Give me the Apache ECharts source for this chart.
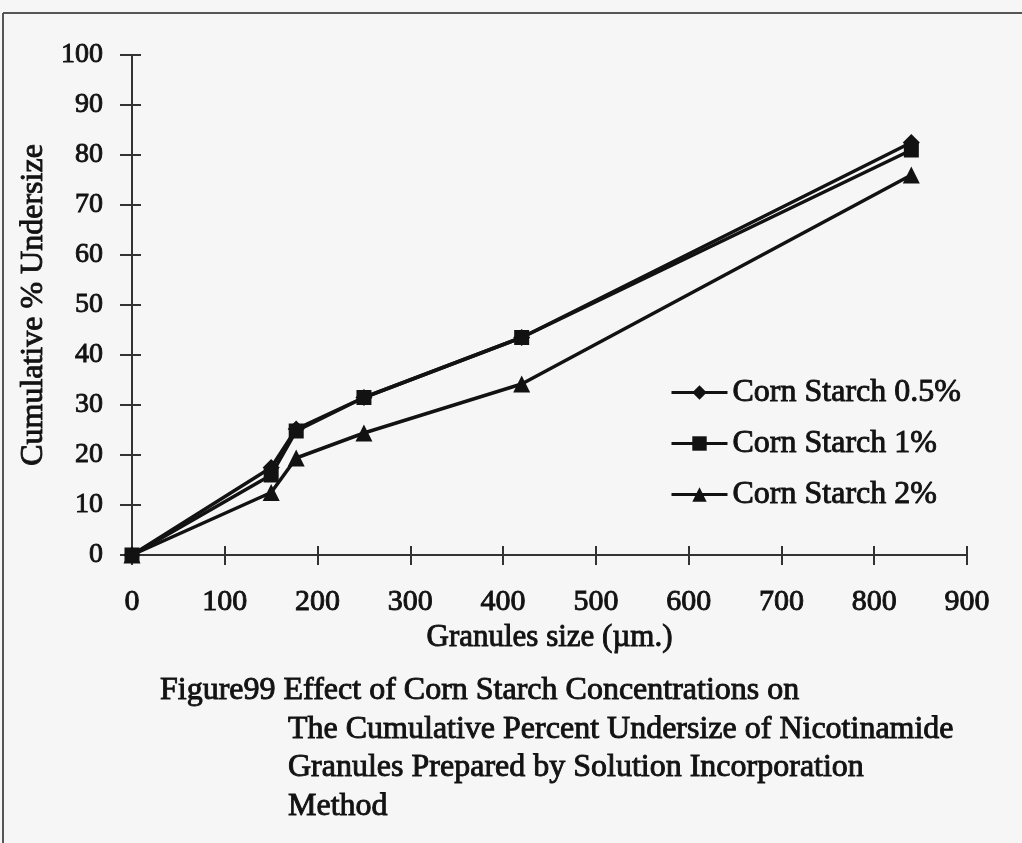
<!DOCTYPE html>
<html>
<head>
<meta charset="utf-8">
<script src="https://cdn.jsdelivr.net/npm/echarts@6/dist/echarts.min.js"></script>
<style>
  html, body { margin: 0; padding: 0; background: #f6f6f6; }
  #chart { width: 1022px; height: 843px; }
</style>
</head>
<body>
<div id="chart"></div>
<script>
// sieve sizes (um) and cumulative % undersize
const sizes = [0, 150, 177, 250, 420, 840]
const starch05 = [0, 17.5, 25.2, 31.5, 43.5, 82.5]
const starch1 = [0, 16, 24.8, 31.5, 43.5, 81]
const starch2 = [0, 12.5, 19.4, 24.4, 34.2, 76]

const seriesNames = ['Corn Starch 0.5%', 'Corn Starch 1%', 'Corn Starch 2%']
const captionLines = [
  'Figure99 Effect of Corn Starch Concentrations on',
  'The Cumulative Percent Undersize of Nicotinamide',
  'Granules Prepared by Solution Incorporation',
  'Method'
]

const font = '"Liberation Serif", "Times New Roman", serif'
const ink = '#121212'
// scanned print looks heavy, thicken glyphs a little
const heavy = { textBorderColor: ink, textBorderWidth: 0.9 }

const pairs = (ys) => sizes.map((x, i) => [x, ys[i]])

const chart = echarts.init(document.getElementById('chart'))

const axisLine = { show: true, lineStyle: { color: '#333', width: 2 } }

const lineSeries = (name, ys, symbol, size) => ({
  name,
  type: 'line',
  data: pairs(ys),
  symbol,
  symbolSize: size,
  lineStyle: { color: ink, width: 3.5 },
  itemStyle: { color: ink },
  emphasis: { disabled: true },
  animation: false,
})

const option = {
  backgroundColor: '#f6f6f6',
  animation: false,
  grid: { left: 132, right: 55, top: 55, bottom: 288, containLabel: false },
  xAxis: [
    {
      type: 'value', min: 0, max: 900, interval: 100,
      name: 'Granules size (\u00b5m.)',
      nameLocation: 'middle', nameGap: 59,
      nameTextStyle: { fontFamily: font, fontSize: 31, color: ink, ...heavy },
      axisLine,
      axisTick: { show: true, length: 10, lineStyle: { color: '#333', width: 2 } },
      axisLabel: { fontFamily: font, fontSize: 30, color: ink, margin: 32, ...heavy },
      splitLine: { show: false },
    },
    {
      type: 'value', min: 0, max: 900, interval: 100, position: 'bottom',
      axisLine: { show: false },
      axisTick: { show: true, inside: true, length: 9, lineStyle: { color: '#333', width: 2 } },
      axisLabel: { show: false },
      splitLine: { show: false },
    },
  ],
  yAxis: [
    {
      type: 'value', min: 0, max: 100, interval: 10,
      name: 'Cumulative % Undersize',
      nameLocation: 'middle', nameGap: 62,
      nameTextStyle: { fontFamily: font, fontSize: 32, color: ink, ...heavy },
      axisLine,
      axisTick: { show: true, length: 12, lineStyle: { color: '#333', width: 2 } },
      axisLabel: { fontFamily: font, fontSize: 28, color: ink, margin: 29, ...heavy },
      splitLine: { show: false },
    },
    {
      type: 'value', min: 0, max: 100, interval: 10, position: 'left',
      axisLine: { show: false },
      axisTick: { show: true, inside: true, length: 9, lineStyle: { color: '#333', width: 2 } },
      axisLabel: { show: false },
      splitLine: { show: false },
    },
  ],
  legend: {
    orient: 'vertical',
    left: 665,
    top: 371,
    itemWidth: 56,
    itemHeight: 18,
    itemGap: 18,
    selectedMode: false,
    data: seriesNames,
    lineStyle: { width: 3 },
    textStyle: { fontFamily: font, fontSize: 32, lineHeight: 33, color: ink, ...heavy },
  },
  series: [
    lineSeries(seriesNames[0], starch05, 'diamond', 17),
    lineSeries(seriesNames[1], starch1, 'rect', 15),
    lineSeries(seriesNames[2], starch2, 'triangle', 17),
  ],
  graphic: [
    // scanned page frame
    { type: 'line', shape: { x1: 3, y1: 13, x2: 1022, y2: 13 }, style: { stroke: '#555', lineWidth: 2 } },
    { type: 'line', shape: { x1: 3, y1: 13, x2: 3, y2: 843 }, style: { stroke: '#555', lineWidth: 2 } },
    ...captionLines.map((t, i) => ({
      type: 'text',
      x: i === 0 ? 160 : 288,
      y: 691 + i * 38.5,
      style: {
        text: t, fontFamily: font, fontSize: 32, fill: ink,
        stroke: ink, lineWidth: 0.9, verticalAlign: 'middle',
      },
    })),
  ],
}

chart.setOption(option)
</script>
</body>
</html>
